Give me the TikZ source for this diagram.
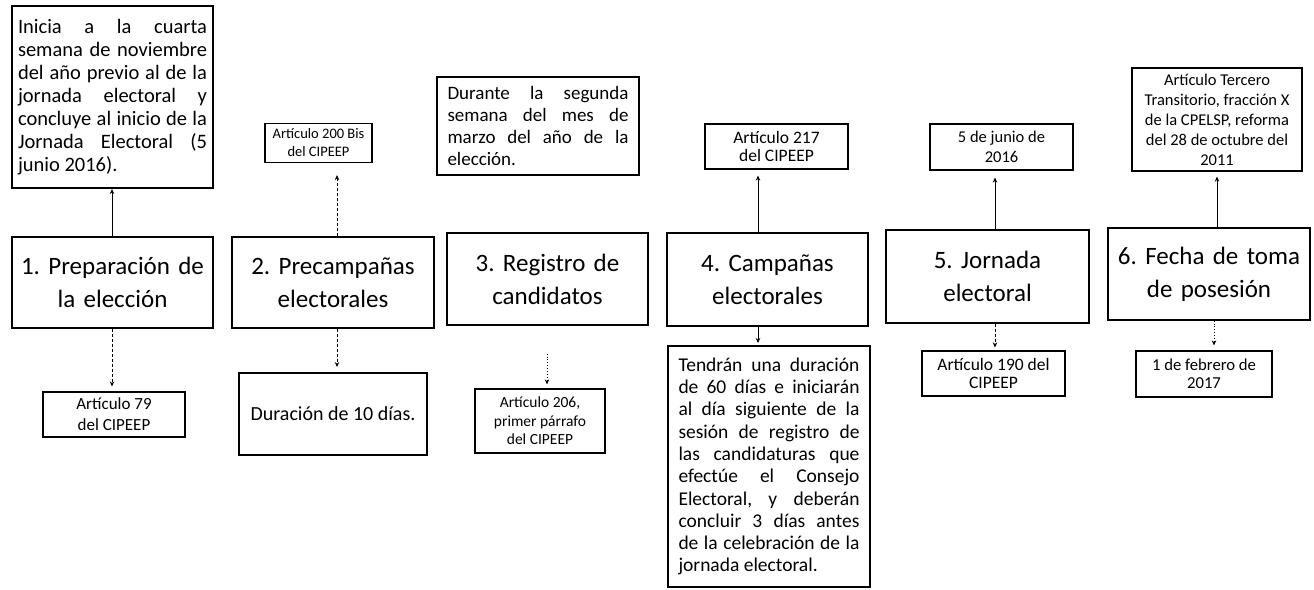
\documentclass[tikz,border=0pt]{standalone}
\usepackage{fontspec}
\setmainfont{Carlito}
\usetikzlibrary{arrows.meta}
\newcommand{\fsz}[2]{\fontsize{#1}{#2}\selectfont}
\AtBeginDocument{\frenchspacing}
\begin{document}
\begin{tikzpicture}[x=1pt,y=-1pt,
  box/.style={draw, line width=1.2pt, inner sep=0pt, align=center},
  mainbox/.style={box, font=\fsz{25}{33}, text width=200pt},
  jbox/.style={draw, line width=2pt, inner sep=0pt, align=justify,
    execute at begin node={\hyphenpenalty=10000\exhyphenpenalty=10000\tolerance=9999\emergencystretch=0pt}},
  conn/.style={line width=0.9pt, -{Stealth[length=5pt,width=4.5pt]}},
]
\useasboundingbox (0,0) rectangle (1314,589);

% main boxes
\node[mainbox, minimum width=201pt, minimum height=91pt] (M1) at (112.5,282.5) {1. Preparación de\\la elección};
\node[mainbox, minimum width=202pt, minimum height=91pt] (M2) at (333,282.5) {2. Precampañas\\electorales};
\node[mainbox, minimum width=201pt, minimum height=92pt] (M3) at (547.5,279) {3. Registro de\\candidatos};
\node[mainbox, minimum width=201pt, minimum height=93pt] (M4) at (767.5,279.5) {4. Campañas\\electorales};
\node[mainbox, minimum width=203pt, minimum height=93pt] (M5) at (987.5,276.5) {5. Jornada\\electoral};
\node[mainbox, minimum width=202pt, minimum height=92pt] (M6) at (1209,274) {6. Fecha de toma\\de posesión};

% top boxes
\node[jbox, minimum width=201pt, minimum height=182pt, text width=189pt, font=\fsz{20.5}{23}] (T1) at (112.5,97)
 {Inicia a la cuarta\linebreak semana de noviembre\linebreak del año previo al de la\linebreak jornada electoral y\linebreak concluye al inicio de la\linebreak Jornada Electoral (5\linebreak junio 2016).};
\node[box, minimum width=107pt, minimum height=39pt, font=\fsz{14.5}{18}] (T2) at (318.5,143) {Artículo 200 Bis\\del CIPEEP};
\node[jbox, minimum width=202pt, minimum height=98pt, text width=181pt, font=\fsz{19}{21.7}] (T3) at (538,126)
 {Durante la segunda\linebreak semana del mes de\linebreak marzo del año de la\linebreak elección.};
\node[box, minimum width=143pt, minimum height=45pt, font=\fsz{17.5}{17.5}] (T4) at (776.5,146.5) {Artículo 217\\del CIPEEP};
\node[box, minimum width=143pt, minimum height=46pt, font=\fsz{16.5}{20}] (T5) at (1001.5,147) {5 de junio de\\2016};
\node[box, minimum width=170pt, minimum height=103pt, font=\fsz{16.5}{20}] (T6) at (1217,119.5)
 {Artículo Tercero\\Transitorio, fracción X\\de la CPELSP, reforma\\del 28 de octubre del\\2011};

% bottom boxes
\node[box, minimum width=142pt, minimum height=45pt, font=\fsz{17}{21}] (B1) at (114,414.5) {Artículo 79\\del CIPEEP};
\node[box, line width=2pt, minimum width=188pt, minimum height=82pt, font=\fsz{20}{24}] (B2) at (333,414) {Duración de 10 días.};
\node[box, minimum width=130pt, minimum height=64pt, font=\fsz{15.5}{18.5}] (B3) at (540,421) {Artículo 206,\\primer párrafo\\del CIPEEP};
\node[jbox, minimum width=202pt, minimum height=241pt, text width=181pt, font=\fsz{19.5}{22.3}] (B4) at (769,466.5)
 {Tendrán una duración\linebreak de 60 días e iniciarán\linebreak al día siguiente de la\linebreak sesión de registro de\linebreak las candidaturas que\linebreak efectúe el Consejo\linebreak Electoral, y deberán\linebreak concluir 3 días antes\linebreak de la celebración de la\linebreak jornada electoral.};
\node[box, minimum width=143pt, minimum height=45pt, font=\fsz{17.5}{18}] (B5) at (993.5,373.5) {Artículo 190 del\\CIPEEP};
\node[box, minimum width=136pt, minimum height=46pt, font=\fsz{16.7}{18}] (B6) at (1204,374) {1 de febrero de\\2017};

% connector columns
\coordinate (x1) at (112,0);
\coordinate (x2) at (337,0);
\coordinate (x3) at (547,0);
\coordinate (x4) at (758,0);
\coordinate (x5) at (995,0);
\coordinate (x6) at (1217,0);
\coordinate (x6b) at (1214,0);

\draw[conn] (M1.north -| x1) -- (T1.south -| x1);
\draw[conn, densely dashed] (M1.south -| x1) -- ([yshift=5pt]B1.north -| x1);
\draw[conn, densely dashed] (M2.north -| x2) -- ([yshift=-12pt]T2.south -| x2);
\draw[conn, densely dashed] (M2.south -| x2) -- ([yshift=5pt]B2.north -| x2);
\draw[conn, dotted, shorten <=28pt] (M3.south -| x3) -- ([yshift=4pt]B3.north -| x3);
\draw[conn] (M4.north -| x4) -- ([yshift=-6pt]T4.south -| x4);
\draw[conn] (M4.south -| x4) -- ([yshift=2pt]B4.north -| x4);
\draw[conn] (M5.north -| x5) -- ([yshift=-7pt]T5.south -| x5);
\draw[conn, densely dashed] (M5.south -| x5) -- ([yshift=3pt]B5.north -| x5);
\draw[conn] (M6.north -| x6) -- ([yshift=-5pt]T6.south -| x6);
\draw[conn, dotted] (M6.south -| x6b) -- ([yshift=5pt]B6.north -| x6b);
\end{tikzpicture}
\end{document}
